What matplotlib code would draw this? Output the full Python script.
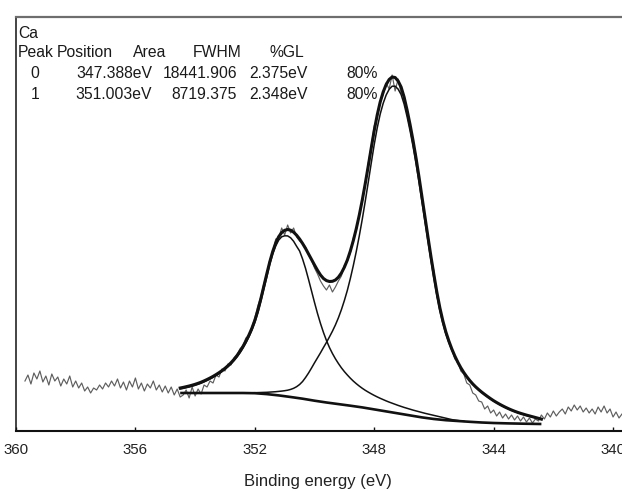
import numpy as np
import matplotlib
matplotlib.use("Agg")
import matplotlib.pyplot as plt

plt.rcParams['font.family'] = ['Liberation Sans', 'DejaVu Sans']

# ---------------- data ----------------
STEP = 0.1

# raw spectrum, binding energy from 359.7 eV downwards in 0.1 eV steps
raw_start = 359.7
raw_int = [
    # 359.7 .. 354.5
    50, 56, 47, 58, 52, 60, 49, 55, 46, 57, 50, 54, 45, 52, 47, 55, 44, 50, 43, 48,
    40, 44, 38, 43, 41, 46, 42, 48, 44, 50, 45, 52, 43, 49, 41, 50, 44, 53, 42, 48,
    40, 47, 43, 50, 41, 46, 39, 45, 38, 44, 36, 42, 34,
    # 354.4 .. 342.5
    36, 41, 33, 44, 35, 42, 37, 46, 44, 50, 48, 56, 54, 62, 60, 67, 66, 73, 76, 82,
    85, 93, 95, 104, 113, 125, 134, 147, 157, 171, 178, 192, 193, 203, 196, 206, 198, 203, 194, 190,
    188, 184, 176, 171, 163, 157, 150, 145, 141, 146, 139, 144, 150, 155, 166, 170, 178, 193, 201, 216,
    229, 247, 268, 285, 305, 313, 329, 336, 348, 342, 356, 340, 352, 338, 336, 318, 306, 289, 276, 252,
    233, 210, 196, 174, 160, 135, 124, 110, 97, 90, 82, 72, 70, 60, 57, 48, 46, 38, 36, 30,
    29, 22, 25, 18, 21, 15, 19, 13, 17, 12, 16, 11, 15, 10, 14, 9, 13, 8, 12, 10,
    # 342.4 .. 339.7
    16, 12, 18, 14, 20, 15, 19, 22, 17, 24, 20, 26, 21, 25, 19, 23, 18, 22, 17, 24,
    19, 25, 18, 22, 14, 19, 13, 17,
]

# fitted envelope, from 354.5 eV downwards in 0.1 eV steps
env_start = 354.5
env_int = [
    43, 43.6, 44.3, 45, 45.8, 46.7, 47.7, 48.8, 50.1, 51.5,
    53, 54.6, 56.4, 58.3, 60.4, 62.7, 65.3, 68.2, 71.5, 75.3,
    79.6, 84.4, 89.8, 95.8, 102.6, 110.6, 120.5, 132, 144.5, 157,
    169, 179.5, 188, 194.3, 198.4, 200.7, 201.5, 200.8, 198.8, 195.8,
    192, 187.5, 182.5, 177, 171.5, 166, 160.7, 156, 152.5, 150.4,
    149.5, 149.7, 151, 153.8, 158, 163.8, 171, 180, 190.5, 202.5,
    216, 231, 247.5, 265, 283, 300.5, 316, 329, 339, 346.5,
    351.5, 354, 353.5, 350, 344, 334, 321, 306.5, 290.5, 273,
    254, 234, 214, 194, 174.5, 156, 138.5, 123, 110, 99,
    90, 82, 75, 68.8, 63.3, 58.5, 54.3, 50.5, 47.1, 44.1,
    41.4, 38.9, 36.6, 34.4, 32.3, 30.3, 28.5, 26.8, 25.2, 23.7,
    22.3, 21, 19.8, 18.7, 17.7, 16.8, 15.9, 15.1, 14.3, 13.5,
    12.7, 11.9,
]

# component 1 (351.003 eV), from 354.5 eV downwards
c1_start = 354.5
c1_int = [
    42, 42.6, 43.3, 44, 44.8, 45.7, 46.7, 47.8, 49.1, 50.5,
    52, 53.6, 55.4, 57.3, 59.4, 61.7, 64.2, 67, 70.2, 73.8,
    78, 82.7, 88, 93.9, 100.6, 108.5, 118.2, 129.5, 141.7, 153.8,
    166.7, 176.9, 185, 190.9, 194.2, 195.2, 195.1, 193.2, 189.7, 184.7,
    180, 172, 162.5, 151.5, 140, 128.5, 117.5, 107.5, 98.5, 90.5,
    83.5, 77.5, 72.2, 67.5, 63.2, 59.4, 56, 52.8, 49.9, 47.3,
    44.9, 42.7, 40.7, 38.9, 37.2, 35.6, 34.1, 32.7, 31.4, 30.1,
    28.9, 27.8, 26.7, 25.6, 24.6, 23.6, 22.7, 21.8, 20.9, 20.1,
    19.3, 18.5, 17.7, 17, 16.3, 15.6, 14.9, 14.2, 13.5, 12.8,
    12.1, 11.4, 10.9, 10.5, 10.1, 9.7,
]

# component 0 (347.388 eV), from 352.5 eV downwards
c0_start = 352.5
c0_int = [
    38, 38, 38.1, 38.1, 38.2, 38.3, 38.4, 38.5, 38.6, 38.7,
    38.9, 39.1, 39.3, 39.6, 39.9, 40.3, 40.8, 41.6, 42.7, 44.3,
    46.5, 49.5, 53.5, 58, 63, 68.2, 73.2, 78.2, 83.5, 88.6,
    94.1, 99.8, 106.1, 113.2, 121.3, 130.5, 140.7, 152.5, 165.5, 179.7,
    195.2, 211.9, 229.9, 248.7, 267.9, 286.5, 303, 316.9, 327.7, 336,
    341.7, 344.8, 344.8, 341.9, 336.5, 327, 314.4, 300.3, 284.7, 267.5,
    248.8, 229.1, 209.5, 189.8, 170.6, 152.4, 135.3, 120.2, 107.6, 97,
    88.4, 80.8, 74.2, 68.1, 62.7, 58, 53.9, 50.2, 46.8, 43.8,
    41.1, 38.6, 36.3, 34.1, 32.0, 30.0, 28.2, 26.5, 24.9, 23.4,
    22.0, 20.7, 19.5, 18.4, 17.4, 16.5, 15.6, 14.8, 14.0, 13.2,
    12.4, 11.6,
]

# Shirley background
bg_be = [354.5, 353.0, 352.4, 352.0, 351.6, 351.2, 350.8, 350.4, 350.0, 349.6,
         349.2, 348.8, 348.4, 348.0, 347.6, 347.2, 346.8, 346.4, 346.0, 345.6,
         345.2, 344.8, 344.4, 344.0, 343.5, 343.0, 342.4]
bg_int = [38, 38, 38, 37.8, 36.9, 35.6, 34, 32.3, 30.3, 28.5,
          26.9, 25.3, 23.6, 21.6, 19.6, 17.6, 15.6, 13.6, 12, 10.8,
          10, 9.2, 8.5, 8, 7.6, 7.3, 7]

xticks = [360, 356, 352, 348, 344, 340]

header = ["Peak", "Position", "Area", "FWHM", "%GL"]
peak_ids = ["0", "1"]
positions = ["347.388eV", "351.003eV"]
areas = ["18441.906", "8719.375"]
fwhms = ["2.375eV", "2.348eV"]
gls = ["80%", "80%"]


def grid(start, vals):
    return np.round(start - STEP * np.arange(len(vals)), 2)


# ---------------- figure ----------------
W, H = 622, 491
fig = plt.figure(figsize=(W / 100, H / 100), dpi=100)
ax = fig.add_axes([16 / W, (H - 431) / H, (W - 16) / W, (431 - 17) / H])

ax.plot(grid(raw_start, raw_int), raw_int, color='#5e5e5e', lw=0.85, zorder=1)
ax.plot(bg_be, bg_int, color='#111111', lw=1.9, zorder=2, solid_capstyle='butt')
ax.plot(grid(c1_start, c1_int), c1_int, color='#111111', lw=1.1, zorder=3)
ax.plot(grid(c0_start, c0_int), c0_int, color='#111111', lw=1.1, zorder=3)
ax.plot(grid(env_start, env_int), env_int, color='#111111', lw=2.2, zorder=4)

ax.set_xlim(360, 339.70)
ax.set_ylim(0, 414)
ax.set_xticks(xticks)
ax.set_xticklabels([str(t) for t in xticks])
ax.set_yticks([])
ax.tick_params(axis='x', direction='in', length=3, width=1.0, pad=8.5,
               labelsize=10.8, labelcolor='#222222', color='#111111')
ax.spines['right'].set_visible(False)
ax.spines['top'].set_color('#6e6e6e')
ax.spines['top'].set_linewidth(1.6)
ax.spines['left'].set_color('#111111')
ax.spines['left'].set_linewidth(1.1)
ax.spines['bottom'].set_color('#111111')
ax.spines['bottom'].set_linewidth(1.5)

fig.text(318 / W, 1 - 486 / H, "Binding energy (eV)", ha='center', va='baseline',
         fontsize=12, color='#222222')


def t(x, base, s, ha='left'):
    fig.text(x / W, 1 - base / H, s, ha=ha, va='baseline', fontsize=11.3, color='#1a1a1a')


t(18, 38, "Ca")
for x, s in zip([18, 57, 133, 193, 269], header):
    t(x, 57, s)
for i, base in enumerate([78, 99]):
    t(35, base, peak_ids[i], ha='center')
    t(152, base, positions[i], ha='right')
    t(237, base, areas[i], ha='right')
    t(308, base, fwhms[i], ha='right')
    t(378, base, gls[i], ha='right')

fig.savefig("out.png", dpi=100)
